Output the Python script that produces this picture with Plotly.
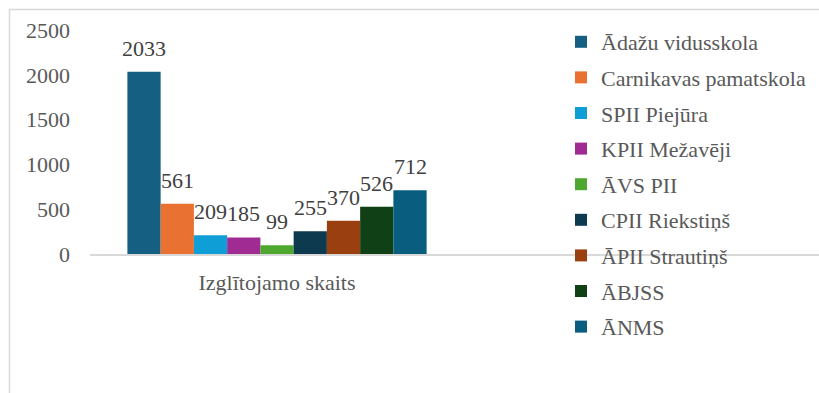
import plotly.graph_objects as go

category = ["Izglītojamo skaits"]
schools = [
    "Ādažu vidusskola",
    "Carnikavas pamatskola",
    "SPII Piejūra",
    "KPII Mežavēji",
    "ĀVS PII",
    "CPII Riekstiņš",
    "ĀPII Strautiņš",
    "ĀBJSS",
    "ĀNMS",
]
values = [2033, 561, 209, 185, 99, 255, 370, 526, 712]
colors = ["#156082", "#E97132", "#0F9ED5", "#A02B93", "#4EA72E",
          "#0D3A4E", "#9A4010", "#0F4016", "#095E80"]
y_ticks = [0, 500, 1000, 1500, 2000, 2500]

W, H = 819, 393
FONT = "Liberation Serif"
TXT = "#595959"

x_domain = [90 / W, 1.0]
x_range = [-0.5, 1.449]
y_domain = [(H - 254) / H, (H - 30) / H]
bargap = 0.2

fig = go.Figure()
for i, (name, v, c) in enumerate(zip(schools, values, colors)):
    fig.add_trace(go.Bar(
        x=category, y=[v], name=name, marker=dict(color=c, line=dict(width=0)),
        legendgroup=name, hoverinfo="skip",
    ))

# data labels as annotations centred on each grouped bar
unit_px = (x_domain[1] - x_domain[0]) * W / (x_range[1] - x_range[0])
bar_px = unit_px * (1 - bargap) / len(values)
n = len(values)
for i, v in enumerate(values):
    fig.add_annotation(
        x=category[0], y=v, xref="x", yref="y", text=str(v), showarrow=False,
        xanchor="center", yanchor="bottom",
        xshift=(i - (n - 1) / 2) * bar_px, yshift=9,
        font=dict(family=FONT, size=22, color="#404040"),
    )

fig.update_layout(
    width=W, height=H, margin=dict(l=0, r=0, t=0, b=0, autoexpand=False),
    paper_bgcolor="white", plot_bgcolor="white",
    barmode="group", bargap=bargap, bargroupgap=0,
    font=dict(family=FONT, size=22, color=TXT),
    showlegend=True,
    legend=dict(x=561 / W, y=(H - 21) / H, xanchor="left", yanchor="top",
                font=dict(family=FONT, size=22, color=TXT),
                tracegroupgap=4, itemwidth=30, bgcolor="rgba(0,0,0,0)"),
    xaxis=dict(domain=x_domain, range=x_range, type="category", automargin=False,
               showgrid=False, showline=True, linecolor="#D9D9D9", linewidth=2,
               ticks="", tickfont=dict(family=FONT, size=22, color=TXT),
               ticklabelstandoff=8, fixedrange=True),
    yaxis=dict(domain=y_domain, range=[0, 2500], tickvals=y_ticks, automargin=False,
               showgrid=False, showline=False, zeroline=False,
               ticks="", tickfont=dict(family=FONT, size=22, color=TXT),
               ticklabelstandoff=19, fixedrange=True),
    shapes=[dict(type="rect", xref="paper", yref="paper",
                 x0=9.5 / W, x1=1.2, y0=-0.2, y1=(H - 9.5) / H,
                 line=dict(color="#D9D9D9", width=1.5), fillcolor="rgba(0,0,0,0)",
                 layer="below")],
)

fig.write_html("out.html")
